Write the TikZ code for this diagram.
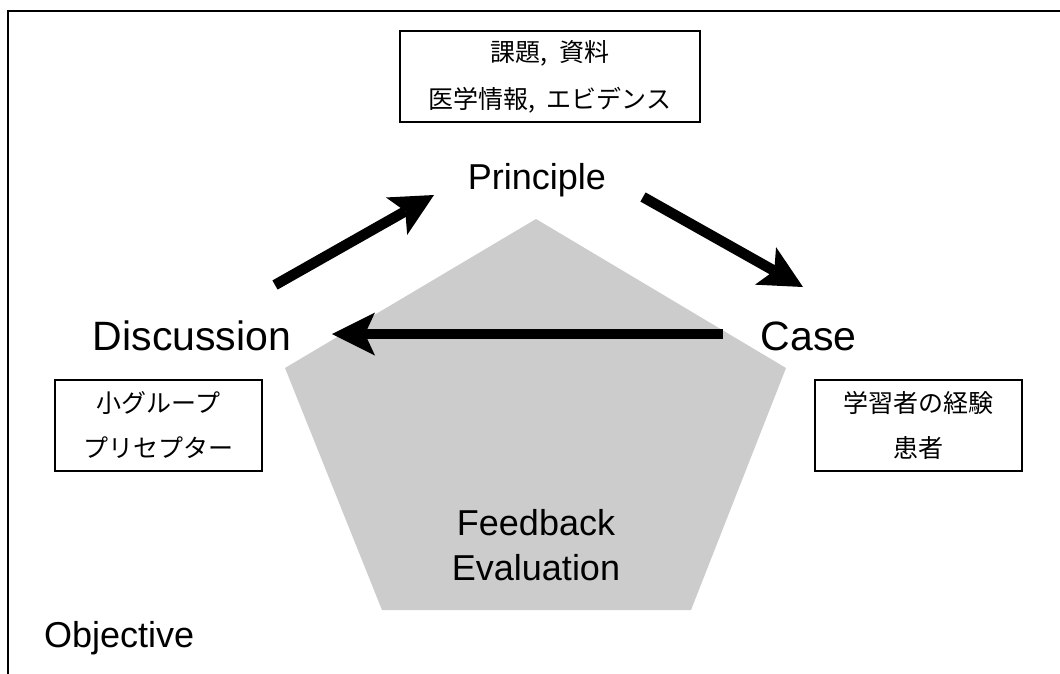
\documentclass[tikz,border=0pt]{standalone}
\usepackage{fontspec}
\setmainfont{Liberation Sans}
\newfontfamily\jpfont{Noto Sans CJK JP}
\usetikzlibrary{arrows.meta}
\definecolor{pentfill}{HTML}{CCCCCC}
\newcommand{\jpcomma}{,\hspace{0.45em}}
\begin{document}
\begin{tikzpicture}[x=1pt,y=-1pt,
  cycarrow/.style={line width=10.5pt,
    -{Stealth[length=43pt,width=43pt,inset=10pt,line width=0pt]}},
  jpbox/.style={draw, line width=1.3pt, inner sep=0pt, align=center,
    font=\jpfont\fontsize{25}{45}\selectfont},
  stage/.style={inner sep=0pt, anchor=base, font=\fontsize{41}{49}\selectfont},
  label/.style={inner sep=0pt, anchor=base, font=\fontsize{36}{45}\selectfont}]
\clip (0,0) rectangle (1060,673);
\fill[white] (0,0) rectangle (1060,673);

% open frame: top and left edges only
\draw[line width=2pt] (8.3,690) -- (8.3,11) -- (1080,11);

% central pentagon
\coordinate (pt) at (536,219);
\coordinate (pl) at (285,368);
\coordinate (pr) at (786,368);
\coordinate (pbl) at (382,610);
\coordinate (pbr) at (691,610);
\fill[pentfill] (pt) -- (pr) -- (pbr) -- (pbl) -- (pl) -- cycle;

% stage labels
\node[label] (principle) at (537,189) {Principle};
\node[stage] (discussion) at (192,350) {Discussion};
\node[stage] (case) at (808.5,350) {Case};
\node[label] (feedback) at (536,535) {Feedback};
\node[label] (evaluation) at (536,580) {Evaluation};
\node[label, anchor=base west] (objective) at (44,647) {Objective};

% annotation boxes
\node[jpbox, minimum width=300pt, minimum height=91pt,
  font=\jpfont\fontsize{25}{47}\selectfont] (topbox) at (550,76.5)
  {課題\jpcomma 資料\\医学情報\jpcomma エビデンス};
\node[jpbox, minimum width=207pt, minimum height=91pt] (leftbox) at (158.5,425.5)
  {小グループ\\プリセプター};
\node[jpbox, minimum width=207pt, minimum height=91pt] (rightbox) at (918.5,425.5)
  {学習者の経験\\患者};

% cycle arrows
\coordinate (dp-s) at (275,285);
\coordinate (dp-e) at (434,195);
\coordinate (pc-s) at (643,197);
\coordinate (pc-e) at (803,287);
\coordinate (cd-s) at (723,334);
\coordinate (cd-e) at (332,334);
\draw[cycarrow] (dp-s) -- (dp-e);
\draw[cycarrow] (pc-s) -- (pc-e);
\draw[cycarrow] (cd-s) -- (cd-e);
\end{tikzpicture}
\end{document}
